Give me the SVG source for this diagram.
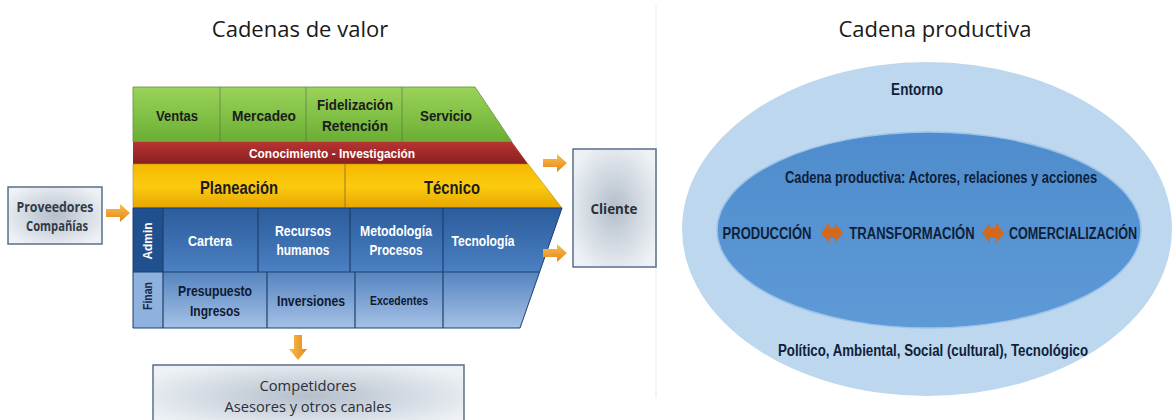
<svg xmlns="http://www.w3.org/2000/svg" width="1172" height="420" viewBox="0 0 1172 420">
<style>
.t{font-family:"Liberation Sans",Arial,sans-serif;font-weight:bold;text-anchor:middle}
.c{font-family:"Open Sans","Liberation Sans",Arial,sans-serif;text-anchor:middle}
.title{font-family:"Open Sans","Liberation Sans",Arial,sans-serif;font-size:22px;fill:#1a1a1a;text-anchor:middle}
.dk{fill:#1c1c1c}
.wh{fill:#ffffff}
.box{stroke:#5b6f88;stroke-width:1.5}
.div{stroke:#5a6a52;stroke-width:1;opacity:.6}
.bdiv{stroke:#1d3f70;stroke-width:1.2}
.ell{font-family:"Liberation Sans",Arial,sans-serif;font-weight:bold;font-size:17px;fill:#0f1f3a;text-anchor:middle}
</style>
<defs>
<linearGradient id="gGreen" x1="0" y1="0" x2="0" y2="1"><stop offset="0" stop-color="#9bd35a"/><stop offset="1" stop-color="#6aae33"/></linearGradient>
<linearGradient id="gRed" x1="0" y1="0" x2="0" y2="1"><stop offset="0" stop-color="#b73434"/><stop offset="1" stop-color="#8a1f1f"/></linearGradient>
<linearGradient id="gYel" x1="0" y1="0" x2="0" y2="1"><stop offset="0" stop-color="#f5b800"/><stop offset="0.5" stop-color="#fbcb10"/><stop offset="1" stop-color="#e8a600"/></linearGradient>
<linearGradient id="gBlue" x1="0" y1="0" x2="0" y2="1"><stop offset="0" stop-color="#2b5c9c"/><stop offset="1" stop-color="#4b80c2"/></linearGradient>
<linearGradient id="gFin" x1="0" y1="0" x2="0" y2="1"><stop offset="0" stop-color="#5584c0"/><stop offset="1" stop-color="#a5c1e6"/></linearGradient>
<radialGradient id="gBox" cx="0.5" cy="0.5" r="0.6"><stop offset="0" stop-color="#b4bfcb"/><stop offset="1" stop-color="#eef2f6"/></radialGradient>
<linearGradient id="gArr" x1="0" y1="0" x2="0" y2="1"><stop offset="0" stop-color="#f9c04a"/><stop offset="1" stop-color="#e5861a"/></linearGradient>
<linearGradient id="gArrV" x1="0" y1="0" x2="1" y2="0"><stop offset="0" stop-color="#f9c04a"/><stop offset="1" stop-color="#e5861a"/></linearGradient>
<linearGradient id="gInner" x1="0" y1="0" x2="0" y2="1"><stop offset="0" stop-color="#4f8ccd"/><stop offset="1" stop-color="#5e9ad6"/></linearGradient>
<path id="arrR" d="M0,-4 L14,-4 L14,-9 L24,0 L14,9 L14,4 L0,4 Z"/>
<path id="dbl" d="M0,0 L8,-10 L8,-5 L14,-5 L14,-10 L22,0 L14,10 L14,5 L8,5 L8,10 Z"/>
</defs>

<rect width="1172" height="420" fill="#ffffff"/>
<line x1="656" y1="6" x2="656" y2="398" stroke="#eef0f3" stroke-width="1.5"/>

<text class="title" x="300" y="37">Cadenas de valor</text>
<text class="title" x="935" y="37">Cadena productiva</text>

<g id="cadena-valor">
  <polygon points="133,87 475,87 512,142 133,142" fill="url(#gGreen)" stroke="#5f8f3a" stroke-width="0.8"/>
  <polygon points="133,142 512,142 528,164 133,164" fill="url(#gRed)"/>
  <polygon points="133,164 528,164 562,208 133,208" fill="url(#gYel)" stroke="#a88a30" stroke-width="0.6"/>
  <polygon points="133,208 562,208 539.6,272 133,272" fill="url(#gBlue)"/>
  <polygon points="133,272 539.6,272 520,328 133,328" fill="url(#gFin)"/>
  <rect x="133" y="208" width="30" height="64" fill="#21508e"/>
  <rect x="133" y="272" width="30" height="56" fill="#8fb1dd"/>
  <g>
    <line class="div" x1="220" y1="87" x2="220" y2="142"/>
    <line class="div" x1="306" y1="87" x2="306" y2="142"/>
    <line class="div" x1="402" y1="87" x2="402" y2="142"/>
    <line x1="345" y1="164" x2="345" y2="208" stroke="#9a7b20" stroke-width="1"/>
    <line class="bdiv" x1="163" y1="208" x2="163" y2="328"/>
    <line class="bdiv" x1="258" y1="208" x2="258" y2="272"/>
    <line class="bdiv" x1="350" y1="208" x2="350" y2="272"/>
    <line class="bdiv" x1="443" y1="208" x2="443" y2="328"/>
    <line class="bdiv" x1="267" y1="272" x2="267" y2="328"/>
    <line class="bdiv" x1="355" y1="272" x2="355" y2="328"/>
    <line class="bdiv" x1="133" y1="272" x2="539.6" y2="272"/>
    <polygon points="133,208 562,208 520,328 133,328" fill="none" stroke="#1d3f70" stroke-width="1"/>
  </g>
  <text class="t dk" x="177" y="121" font-size="15" textLength="42" lengthAdjust="spacingAndGlyphs">Ventas</text>
  <text class="t dk" x="264" y="121" font-size="15" textLength="64" lengthAdjust="spacingAndGlyphs">Mercadeo</text>
  <text class="t dk" x="355" y="110" font-size="15" textLength="76" lengthAdjust="spacingAndGlyphs">Fidelización</text>
  <text class="t dk" x="355" y="131" font-size="15" textLength="66" lengthAdjust="spacingAndGlyphs">Retención</text>
  <text class="t dk" x="446" y="121" font-size="15" textLength="52" lengthAdjust="spacingAndGlyphs">Servicio</text>
  <text class="t wh" x="332" y="158" font-size="12.5" textLength="166" lengthAdjust="spacingAndGlyphs">Conocimiento - Investigación</text>
  <text class="t dk" x="239" y="194" font-size="18" textLength="78" lengthAdjust="spacingAndGlyphs">Planeación</text>
  <text class="t dk" x="452" y="194" font-size="18" textLength="56" lengthAdjust="spacingAndGlyphs">Técnico</text>
  <text class="t wh" font-size="12.5" transform="translate(152,241) rotate(-90)" textLength="37" lengthAdjust="spacingAndGlyphs">Admin</text>
  <text class="t wh" x="210" y="246" font-size="14" textLength="44" lengthAdjust="spacingAndGlyphs">Cartera</text>
  <text class="t wh" x="303" y="236" font-size="14" textLength="56" lengthAdjust="spacingAndGlyphs">Recursos</text>
  <text class="t wh" x="303" y="255" font-size="14" textLength="53" lengthAdjust="spacingAndGlyphs">humanos</text>
  <text class="t wh" x="396" y="236" font-size="14" textLength="72" lengthAdjust="spacingAndGlyphs">Metodología</text>
  <text class="t wh" x="396" y="255" font-size="14" textLength="53" lengthAdjust="spacingAndGlyphs">Procesos</text>
  <text class="t wh" x="483" y="246" font-size="14" textLength="63" lengthAdjust="spacingAndGlyphs">Tecnología</text>
  <text class="t" fill="#1a2a4a" font-size="13" transform="translate(152,296) rotate(-90)" textLength="28" lengthAdjust="spacingAndGlyphs">Finan</text>
  <text class="t" fill="#101a30" x="215" y="296" font-size="14" textLength="74" lengthAdjust="spacingAndGlyphs">Presupuesto</text>
  <text class="t" fill="#101a30" x="215" y="316" font-size="14" textLength="50" lengthAdjust="spacingAndGlyphs">Ingresos</text>
  <text class="t" fill="#101a30" x="311" y="306" font-size="14" textLength="68" lengthAdjust="spacingAndGlyphs">Inversiones</text>
  <text class="t" fill="#101a30" x="399" y="305" font-size="12" textLength="58" lengthAdjust="spacingAndGlyphs">Excedentes</text>
</g>

<g id="proveedores">
  <rect class="box" x="8" y="187" width="94" height="57" fill="url(#gBox)"/>
  <text class="c" fill="#333a44" font-weight="bold" x="55" y="212" font-size="14" textLength="77" lengthAdjust="spacingAndGlyphs">Proveedores</text>
  <text class="c" fill="#333a44" font-weight="bold" x="57" y="231" font-size="14" textLength="62" lengthAdjust="spacingAndGlyphs">Compañías</text>
</g>

<g id="cliente">
  <rect class="box" x="573" y="149" width="83" height="118" fill="url(#gBox)"/>
  <text class="c" fill="#2a2f38" font-weight="bold" x="614" y="214" font-size="15" textLength="47" lengthAdjust="spacingAndGlyphs">Cliente</text>
</g>

<g id="competidores">
  <rect class="box" x="153" y="365" width="311" height="62" fill="url(#gBox)"/>
  <text class="c" fill="#2a2f38" x="308" y="391" font-size="15" textLength="97" lengthAdjust="spacingAndGlyphs">Competidores</text>
  <text class="c" fill="#2a2f38" x="308" y="412" font-size="15" textLength="167" lengthAdjust="spacingAndGlyphs">Asesores y otros canales</text>
</g>

<g id="connectors">
  <use href="#arrR" x="106" y="213" fill="url(#gArr)"/>
  <use href="#arrR" x="543" y="163" fill="url(#gArr)"/>
  <use href="#arrR" x="543" y="253" fill="url(#gArr)"/>
  <path d="M294,335 L302,335 L302,349 L307,349 L298,360 L289,349 L294,349 Z" fill="url(#gArrV)"/>
</g>

<g id="entorno">
  <ellipse cx="927" cy="229" rx="245" ry="167" fill="#bdd7ee"/>
  <text class="ell" transform="translate(917,95) scale(0.7,1)" textLength="74" lengthAdjust="spacingAndGlyphs">Entorno</text>
  <text class="ell" transform="translate(933,356) scale(0.7,1)" textLength="443" lengthAdjust="spacingAndGlyphs">Político, Ambiental, Social (cultural), Tecnológico</text>
</g>

<g id="cadena-productiva">
  <ellipse cx="929" cy="230" rx="212" ry="98" fill="url(#gInner)" stroke="#9cc2e8" stroke-width="1.5"/>
  <text class="ell" transform="translate(941,183) scale(0.7,1)" textLength="446" lengthAdjust="spacingAndGlyphs">Cadena productiva: Actores, relaciones y acciones</text>
  <text class="ell" transform="translate(767,239) scale(0.7,1)" textLength="127" lengthAdjust="spacingAndGlyphs">PRODUCCIÓN</text>
  <text class="ell" transform="translate(912,239) scale(0.7,1)" textLength="179" lengthAdjust="spacingAndGlyphs">TRANSFORMACIÓN</text>
  <text class="ell" transform="translate(1073,239) scale(0.7,1)" textLength="183" lengthAdjust="spacingAndGlyphs">COMERCIALIZACIÓN</text>
  <use href="#dbl" x="821" y="233" fill="#d2691e"/>
  <use href="#dbl" x="982" y="233" fill="#d2691e"/>
</g>
</svg>
